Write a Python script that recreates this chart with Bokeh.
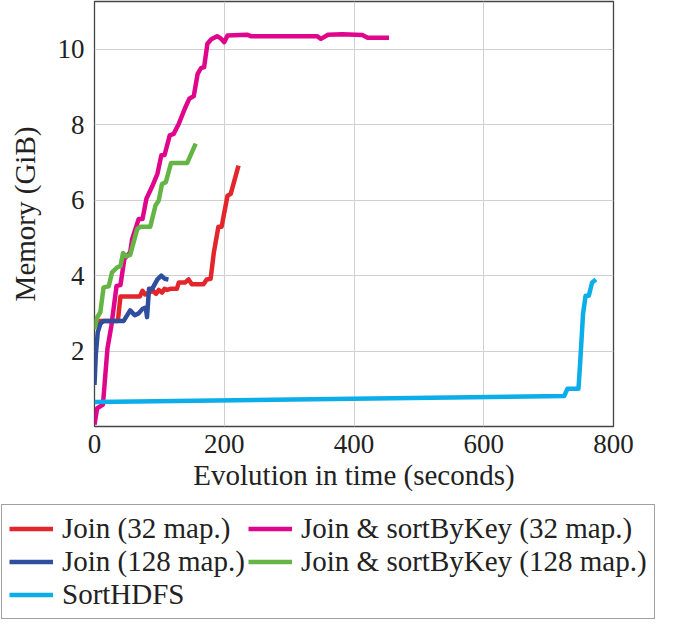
from bokeh.plotting import figure
from bokeh.models import Range1d, FixedTicker, Legend, LegendItem
from bokeh.embed import file_html
from bokeh.resources import INLINE

# ---- data ----
join32_x = [0, 5, 36, 40, 70, 74, 78, 84, 90, 95, 99, 104, 108, 112, 117, 127, 130, 140, 145, 150, 168, 173, 179, 184, 191, 196, 205, 210, 222]
join32_y = [2.6, 2.8, 2.8, 3.45, 3.45, 3.6, 3.5, 3.55, 3.6, 3.52, 3.62, 3.55, 3.65, 3.62, 3.65, 3.65, 3.82, 3.82, 3.9, 3.77, 3.77, 3.9, 3.92, 4.62, 5.3, 5.3, 6.12, 6.17, 6.92]

jsort32_x = [0, 4, 13, 20, 26, 34, 40, 46, 55, 58, 68, 74, 80, 89, 97, 103, 108, 116, 122, 130, 139, 146, 153, 159, 164, 169, 174, 180, 189, 194, 200, 205, 235, 241, 343, 349, 360, 382, 413, 421, 454]
jsort32_y = [0.05, 0.48, 0.58, 2.07, 2.67, 3.73, 3.75, 4.44, 4.62, 4.97, 5.5, 5.5, 6.04, 6.37, 6.7, 7.19, 7.2, 7.72, 7.76, 8.03, 8.42, 8.69, 8.76, 9.35, 9.5, 9.53, 10.15, 10.27, 10.35, 10.3, 10.19, 10.37, 10.39, 10.35, 10.35, 10.28, 10.39, 10.4, 10.38, 10.31, 10.31]

join128_x = [0, 2, 5, 9, 14, 45, 55, 62, 68, 74, 79, 81, 84, 89, 97, 103, 108, 114]
join128_y = [1.1, 1.9, 2.5, 2.72, 2.8, 2.8, 3.08, 2.95, 3.0, 3.12, 3.15, 2.9, 3.65, 3.65, 3.9, 4.0, 3.92, 3.9]

jsort128_x = [0, 4, 9, 14, 22, 27, 35, 40, 44, 49, 55, 61, 66, 71, 86, 94, 99, 104, 110, 118, 143, 148, 156]
jsort128_y = [2.58, 2.89, 3.03, 3.69, 3.72, 4.09, 4.22, 4.25, 4.6, 4.51, 4.55, 4.93, 5.24, 5.3, 5.3, 5.86, 5.99, 6.43, 6.48, 6.99, 6.99, 7.19, 7.5]

sorthdfs_x = [0, 724, 729, 746, 749, 753, 757, 762, 767, 773]
sorthdfs_y = [0.65, 0.81, 1.0, 1.0, 1.8, 2.98, 3.47, 3.47, 3.82, 3.9]

x_ticks = [0, 200, 400, 600, 800]
y_ticks = [2, 4, 6, 8, 10]

labels = ["Join (32 map.)", "Join & sortByKey (32 map.)", "Join (128 map.)",
          "Join & sortByKey (128 map.)", "SortHDFS"]
colors = ["#E3262B", "#E0068C", "#2F4F9E", "#65B446", "#0BAEE8"]

FONT = "Liberation Serif"
series = [(join32_x, join32_y), (jsort32_x, jsort32_y), (join128_x, join128_y),
          (jsort128_x, jsort128_y), (sorthdfs_x, sorthdfs_y)]

# ---- main chart ----
p = figure(width=660, height=503,
           x_range=Range1d(0, 800), y_range=Range1d(0.0, 11.27),
           output_backend="svg", toolbar_location=None,
           min_border_left=94, min_border_right=47,
           min_border_top=1, min_border_bottom=77)

for (xs, ys), c in zip(series, colors):
    p.line(xs, ys, line_color=c, line_width=4.5, line_join="round")

p.xaxis.ticker = FixedTicker(ticks=x_ticks)
p.yaxis.ticker = FixedTicker(ticks=y_ticks)
for ax in (p.xaxis, p.yaxis):
    ax.axis_line_color = None
    ax.major_tick_out = 0
    ax.major_tick_in = 0
    ax.minor_tick_line_color = None
    ax.major_label_text_font = FONT
    ax.major_label_text_font_size = "27px"
    ax.major_label_text_color = "#222222"
    ax.axis_label_text_font = FONT
    ax.axis_label_text_font_size = "29px"
    ax.axis_label_text_font_style = "normal"
    ax.axis_label_text_color = "#222222"

p.xaxis.axis_label = "Evolution in time (seconds)"
p.yaxis.axis_label = "Memory (GiB)"
p.xaxis.major_label_standoff = 8
p.yaxis.major_label_standoff = 10
p.xaxis.axis_label_standoff = 3
p.yaxis.axis_label_standoff = 14

p.grid.grid_line_color = "#d0d0d0"
p.grid.grid_line_width = 1
p.outline_line_color = "#444444"
p.outline_line_width = 1.3

# ---- legend panel (same series, kept out of view; only the legend shows) ----
lg = figure(width=660, height=118, x_range=Range1d(-20, -10), y_range=Range1d(-20, -10),
            output_backend="svg", toolbar_location=None,
            x_axis_type=None, y_axis_type=None,
            min_border_left=0, min_border_right=0, min_border_top=0, min_border_bottom=0)
lg.grid.visible = False
lg.outline_line_color = None
leg_renderers = []
for (xs, ys), c in zip(series, colors):
    leg_renderers.append(lg.line(xs, ys, line_color=c, line_width=4.5))

items = [LegendItem(label=l, renderers=[r]) for l, r in zip(labels, leg_renderers)]
legend = Legend(items=items, orientation="horizontal", ncols=2,
                location="top_left",
                label_text_font=FONT, label_text_font_size="29px",
                label_text_color="#222222",
                glyph_width=44, glyph_height=31, label_standoff=9,
                label_width=186,
                spacing=0, padding=7, margin=1,
                border_line_color="#444444", border_line_width=1.3,
                background_fill_alpha=1.0)
lg.add_layout(legend, "center")

open("out.html", "w").write(file_html([p, lg], INLINE))
